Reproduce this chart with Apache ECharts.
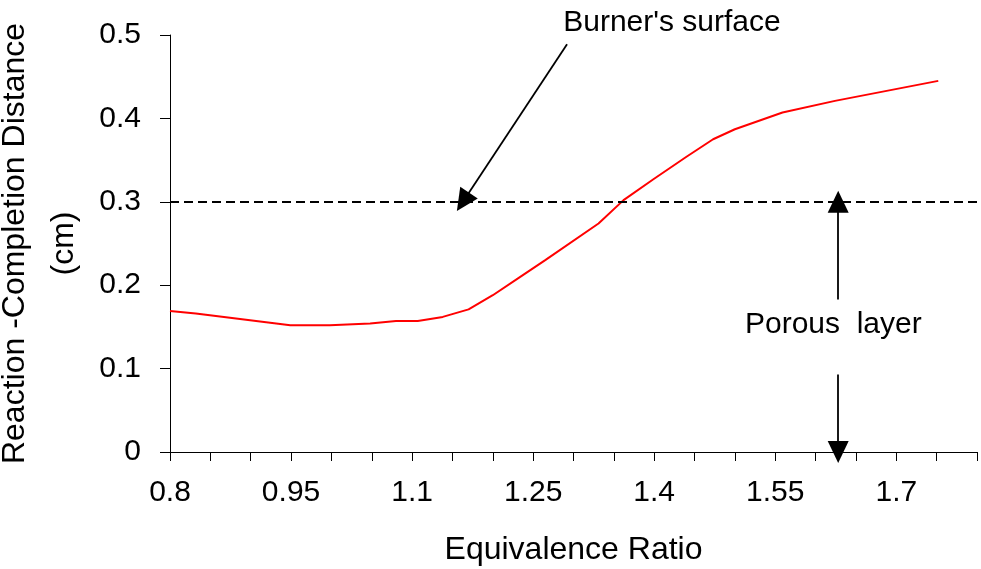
<!DOCTYPE html>
<html>
<head>
<meta charset="utf-8">
<script src="https://cdn.jsdelivr.net/npm/echarts@6/dist/echarts.min.js"></script>
<style>
  html, body { margin: 0; padding: 0; background: #fff; }
  #chart { width: 981px; height: 569px; }
</style>
</head>
<body>
<div id="chart"></div>
<script>
// ---- data ----
const equivalenceRatio = [0.8, 0.832, 0.949, 0.998, 1.048, 1.08, 1.107, 1.138, 1.17, 1.2, 1.234, 1.265, 1.331, 1.362, 1.399, 1.44, 1.473, 1.5, 1.559, 1.624, 1.752];
const reactionDistance = [0.169, 0.166, 0.152, 0.152, 0.154, 0.157, 0.157, 0.162, 0.171, 0.188, 0.210, 0.230, 0.274, 0.302, 0.327, 0.354, 0.375, 0.387, 0.407, 0.421, 0.445];
const xTickLabels = ['0.8', '0.95', '1.1', '1.25', '1.4', '1.55', '1.7'];
const yTickLabels = ['0', '0.1', '0.2', '0.3', '0.4', '0.5'];
const burnerSurfaceLevel = 0.3;
// annotation anchors in data units
const burnerArrow = [[1.292, 0.489], [1.163, 0.3]];
const porousUpArrow = [[1.628, 0.183], [1.628, 0.3]];
const porousDownArrow = [[1.628, 0.093], [1.628, 0]];
const burnerLabelAt = [1.422, 0.515];
const porousLabelAt = [1.622, 0.152];

const FONT = 'Liberation Sans, Arial, sans-serif';
const chart = echarts.init(document.getElementById('chart'));

const arrowStyle = { color: '#000', width: 1.8, type: 'solid' };

const option = {
  animation: false,
  backgroundColor: '#fff',
  grid: { left: 170, right: 4, top: 35, bottom: 117, containLabel: false, outerBoundsMode: 'none' },
  xAxis: {
    type: 'value',
    min: 0.8, max: 1.8, interval: 0.05,
    name: 'Equivalence Ratio',
    nameLocation: 'middle',
    nameGap: 82,
    nameTextStyle: { fontFamily: FONT, fontSize: 32, color: '#000' },
    axisLine: { show: true, onZero: false, lineStyle: { color: '#000', width: 1 } },
    axisTick: { show: true, inside: false, length: 9, lineStyle: { color: '#000', width: 1 } },
    splitLine: { show: false },
    axisLabel: {
      margin: 26,
      fontFamily: FONT, fontSize: 30, color: '#000',
      showMaxLabel: true,
      formatter: function (v) {
        const k = Math.round((v - 0.8) / 0.05);
        return (k % 3 === 0 && xTickLabels[k / 3] !== undefined) ? xTickLabels[k / 3] : '';
      }
    }
  },
  yAxis: {
    type: 'value',
    min: 0, max: 0.5, interval: 0.1,
    name: 'Reaction -Completion Distance\n(cm)',
    nameLocation: 'middle',
    nameRotate: 90,
    nameGap: 104,
    nameTextStyle: { fontFamily: FONT, fontSize: 32, color: '#000', lineHeight: 49, align: 'center', verticalAlign: 'middle' },
    axisLine: { show: true, lineStyle: { color: '#000', width: 1 } },
    axisTick: { show: true, inside: false, length: 10, lineStyle: { color: '#000', width: 1 } },
    splitLine: { show: false },
    axisLabel: {
      margin: 29,
      fontFamily: FONT, fontSize: 30, color: '#000',
      formatter: function (v) {
        const k = Math.round(v / 0.1);
        return yTickLabels[k] !== undefined ? yTickLabels[k] : '';
      }
    }
  },
  series: [
    {
      type: 'line',
      data: equivalenceRatio.map((x, i) => [x, reactionDistance[i]]),
      showSymbol: false,
      symbol: 'none',
      lineStyle: { color: '#ff0000', width: 2 },
      itemStyle: { color: '#ff0000' },
      z: 3,
      markLine: {
        silent: true,
        animation: false,
        label: { show: false },
        emphasis: { disabled: true },
        data: [
          [
            { coord: [0.8, burnerSurfaceLevel], symbol: 'none', lineStyle: { color: '#000', width: 2, type: [9, 5] } },
            { coord: [1.8, burnerSurfaceLevel], symbol: 'none' }
          ],
          [
            { coord: burnerArrow[0], symbol: 'none', lineStyle: arrowStyle },
            { coord: burnerArrow[1], symbol: 'triangle', symbolSize: [21, 22] }
          ],
          [
            { coord: porousUpArrow[0], symbol: 'none', lineStyle: arrowStyle },
            { coord: porousUpArrow[1], symbol: 'triangle', symbolSize: [21, 22] }
          ],
          [
            { coord: porousDownArrow[0], symbol: 'none', lineStyle: arrowStyle },
            { coord: porousDownArrow[1], symbol: 'triangle', symbolSize: [21, 22] }
          ]
        ],
        symbol: ['none', 'triangle'],
        itemStyle: { color: '#000' }
      }
    }
  ]
};
chart.setOption(option);

function placeLabels() {
  const b = chart.convertToPixel({ gridIndex: 0 }, burnerLabelAt);
  const p = chart.convertToPixel({ gridIndex: 0 }, porousLabelAt);
  chart.setOption({
    graphic: [
      { type: 'text', x: b[0], y: b[1], silent: true,
        style: { text: "Burner's surface", fontFamily: FONT, fontSize: 30, fill: '#000', align: 'center', verticalAlign: 'middle' } },
      { type: 'text', x: p[0], y: p[1], silent: true,
        style: { text: 'Porous  layer', fontFamily: FONT, fontSize: 30, fill: '#000', align: 'center', verticalAlign: 'middle', backgroundColor: '#fff' } }
    ]
  });
}
placeLabels();
</script>
</body>
</html>
